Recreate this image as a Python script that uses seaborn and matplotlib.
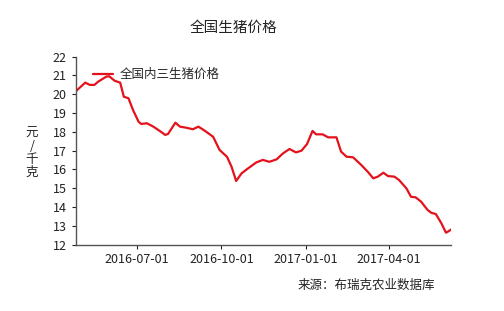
import matplotlib
matplotlib.use("Agg")
import matplotlib.pyplot as plt
import matplotlib.dates as mdates
import pandas as pd
import seaborn as sns

dates = [
    "2016-04-26", "2016-05-06", "2016-05-11", "2016-05-16", "2016-05-20", "2016-05-29",
    "2016-06-01", "2016-06-07", "2016-06-13", "2016-06-17", "2016-06-22", "2016-06-27",
    "2016-07-03", "2016-07-06", "2016-07-12", "2016-07-19", "2016-07-26", "2016-08-01",
    "2016-08-04", "2016-08-12", "2016-08-17", "2016-08-24", "2016-08-31", "2016-09-06",
    "2016-09-13", "2016-09-22", "2016-09-29", "2016-10-07", "2016-10-12", "2016-10-17",
    "2016-10-23", "2016-10-30", "2016-11-08", "2016-11-15", "2016-11-22", "2016-11-30",
    "2016-12-07", "2016-12-14", "2016-12-21", "2016-12-27", "2017-01-02", "2017-01-08",
    "2017-01-12", "2017-01-19", "2017-01-25", "2017-02-03", "2017-02-08", "2017-02-14",
    "2017-02-21", "2017-03-02", "2017-03-09", "2017-03-15", "2017-03-20", "2017-03-26",
    "2017-03-31", "2017-04-07", "2017-04-12", "2017-04-20", "2017-04-25", "2017-04-30",
    "2017-05-06", "2017-05-13", "2017-05-17", "2017-05-22", "2017-05-28", "2017-06-02",
    "2017-06-04", "2017-06-08",
]
prices = [
    20.17, 20.62, 20.50, 20.50, 20.67, 20.94,
    20.96, 20.72, 20.62, 19.87, 19.79, 19.16,
    18.54, 18.42, 18.46, 18.28, 18.05, 17.84,
    17.89, 18.49, 18.28, 18.22, 18.14, 18.28,
    18.06, 17.74, 17.04, 16.68, 16.15, 15.39,
    15.80, 16.06, 16.38, 16.51, 16.41, 16.54,
    16.86, 17.09, 16.91, 17.00, 17.35, 18.05,
    17.87, 17.87, 17.71, 17.71, 16.95, 16.68,
    16.65, 16.24, 15.88, 15.53, 15.62, 15.83,
    15.65, 15.62, 15.44, 15.00, 14.55, 14.52,
    14.29, 13.85, 13.70, 13.63, 13.14, 12.64,
    12.69, 12.82,
]
x_ticks = ["2016-07-01", "2016-10-01", "2017-01-01", "2017-04-01"]
y_ticks = [12, 13, 14, 15, 16, 17, 18, 19, 20, 21, 22]
series_name = "全国内三生猪价格"
title = "全国生猪价格"
ylabel = "元\n/\n千\n克"
source = "来源：布瑞克农业数据库"

sns.set_style("ticks")
plt.rcParams["font.family"] = ["Noto Sans CJK SC", "DejaVu Sans"]

df = pd.DataFrame({"date": pd.to_datetime(dates), "price": prices, "series": series_name})

fig = plt.figure(figsize=(5.04, 3.11), dpi=100)
ax = fig.add_axes([0.1508, 0.2132, 0.745, 0.6045])

sns.lineplot(data=df, x="date", y="price", hue="series", palette=["#e3121b"],
             linewidth=1.6, ax=ax)

ax.set_xlim(pd.Timestamp("2016-04-26"), pd.Timestamp("2017-06-08"))
ax.set_ylim(12, 22)
ax.set_yticks(y_ticks)
ax.set_xticks(pd.to_datetime(x_ticks))
ax.xaxis.set_major_formatter(mdates.DateFormatter("%Y-%m-%d"))
ax.tick_params(axis="both", labelsize=9, colors="#222222", length=3, width=0.8)
ax.tick_params(axis="x", pad=3)
for s in ["left", "bottom"]:
    ax.spines[s].set_color("#555555")
    ax.spines[s].set_linewidth(1.0)
sns.despine(ax=ax)
ax.set_xlabel("")
ax.set_ylabel("")

leg = ax.legend(loc="upper left", bbox_to_anchor=(0.045, 0.94), frameon=False,
                fontsize=9, handlelength=1.6, handletextpad=0.55, borderaxespad=0,
                borderpad=0)

fig.text(233 / 504, 1 - 28 / 311, title, ha="center", va="center", fontsize=10.5, color="#222222")
fig.text(32 / 504, 1 - 153 / 311, ylabel, ha="center", va="center", fontsize=9,
         color="#222222", linespacing=0.98)
fig.text(298 / 504, 1 - 285 / 311, source, ha="left", va="center", fontsize=9, color="#222222")

fig.savefig("out.png", dpi=100, facecolor="white")
